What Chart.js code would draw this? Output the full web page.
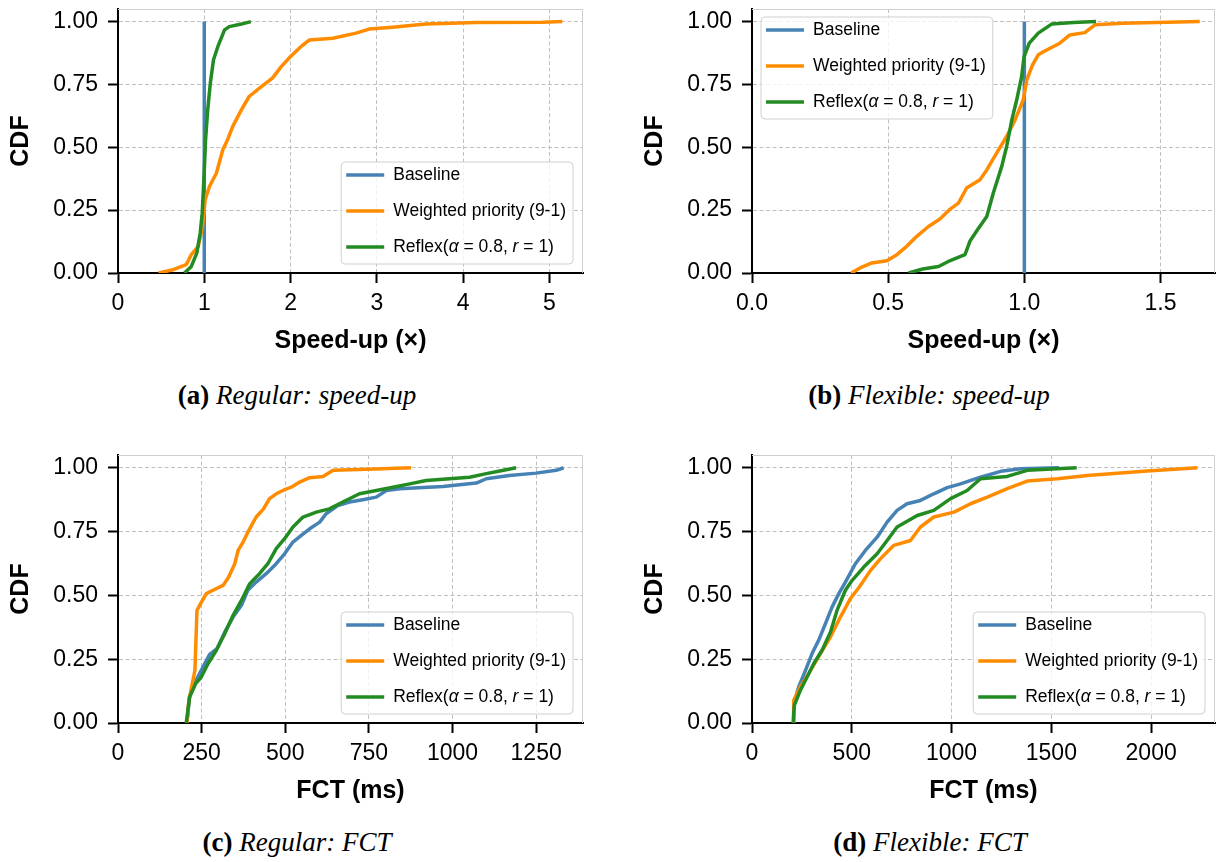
<!DOCTYPE html>
<html>
<head>
<meta charset="utf-8">
<script src="https://cdn.jsdelivr.net/npm/chart.js@4.4.0/dist/chart.umd.min.js"></script>
<style>
  body { margin: 0; background: #fff; }
  #fig { position: relative; width: 1216px; height: 862px; overflow: hidden; background: #fff; }
  #fig canvas { position: absolute; }
  .cap { position: absolute; transform: translate(-50%, -50%); white-space: nowrap;
         font-family: "Liberation Serif", serif; font-size: 27px; color: #000; }
  .cap b { font-style: normal; }
</style>
</head>
<body>
<div id="fig">
  <canvas id="cA" width="600" height="356" style="left:0;top:0"></canvas>
  <canvas id="cB" width="582" height="356" style="left:634px;top:0"></canvas>
  <canvas id="cC" width="600" height="360" style="left:0;top:446px"></canvas>
  <canvas id="cD" width="582" height="360" style="left:634px;top:446px"></canvas>
  <div class="cap" style="left:297px;top:395px"><b>(a)</b> <i>Regular: speed-up</i></div>
  <div class="cap" style="left:929px;top:395px"><b>(b)</b> <i>Flexible: speed-up</i></div>
  <div class="cap" style="left:297px;top:842px"><b>(c)</b> <i>Regular: FCT</i></div>
  <div class="cap" style="left:930px;top:842px"><b>(d)</b> <i>Flexible: FCT</i></div>
</div>
<script>
// series names and tick values
const seriesNames = ['Baseline', 'Weighted priority (9-1)', 'Reflex(α = 0.8, r = 1)'];
const cdfTicks = [0, 0.25, 0.5, 0.75, 1.0];
const speedTicksReg = [0, 1, 2, 3, 4, 5];
const speedTicksFlex = [0, 0.5, 1.0, 1.5];
const fctTicksReg = [0, 250, 500, 750, 1000, 1250];
const fctTicksFlex = [0, 500, 1000, 1500, 2000];

// (a) regular: speed-up
const regSpeedBaseX = [1, 1];
const regSpeedBaseY = [0, 1];
const regSpeedWpX = [0.47, 0.64, 0.79, 0.85, 0.93, 0.98, 1.01, 1.06, 1.14, 1.215, 1.27, 1.33, 1.43, 1.52, 1.64, 1.79, 1.89, 2.0, 2.12, 2.22, 2.49, 2.76, 2.91, 3.18, 3.57, 4.15, 4.92, 5.15];
const regSpeedWpY = [0, 0.013, 0.033, 0.073, 0.106, 0.185, 0.29, 0.344, 0.397, 0.49, 0.53, 0.583, 0.649, 0.702, 0.735, 0.775, 0.82, 0.861, 0.9, 0.927, 0.934, 0.954, 0.97, 0.977, 0.99, 0.996, 0.997, 1.0];
const regSpeedRxX = [0.77, 0.85, 0.914, 0.953, 0.976, 0.999, 1.015, 1.04, 1.07, 1.107, 1.157, 1.235, 1.29, 1.43, 1.54];
const regSpeedRxY = [0, 0.026, 0.08, 0.159, 0.238, 0.397, 0.53, 0.649, 0.755, 0.848, 0.9, 0.967, 0.98, 0.99, 1.0];

// (b) flexible: speed-up
const flexSpeedBaseX = [1, 1];
const flexSpeedBaseY = [0, 1];
const flexSpeedWpX = [0.364, 0.397, 0.44, 0.495, 0.532, 0.568, 0.605, 0.648, 0.69, 0.725, 0.758, 0.788, 0.837, 0.862, 0.898, 0.935, 0.966, 0.996, 1.009, 1.03, 1.051, 1.082, 1.13, 1.167, 1.222, 1.259, 1.363, 1.644];
const flexSpeedWpY = [0, 0.02, 0.04, 0.049, 0.073, 0.106, 0.146, 0.185, 0.215, 0.252, 0.278, 0.338, 0.371, 0.41, 0.477, 0.543, 0.609, 0.689, 0.768, 0.828, 0.868, 0.887, 0.914, 0.947, 0.956, 0.987, 0.993, 1.0];
const flexSpeedRxX = [0.575, 0.627, 0.685, 0.721, 0.782, 0.8, 0.828, 0.862, 0.886, 0.917, 0.935, 0.954, 0.972, 0.99, 0.999, 1.018, 1.051, 1.1, 1.18, 1.263];
const flexSpeedRxY = [0, 0.016, 0.026, 0.046, 0.073, 0.126, 0.172, 0.225, 0.318, 0.424, 0.503, 0.609, 0.689, 0.781, 0.861, 0.914, 0.954, 0.99, 0.996, 1.0];

// (c) regular: FCT (ms)
const regFctBaseX = [206, 214, 236, 254, 274, 296, 319, 344, 369, 388, 413, 443, 473, 498, 523, 548, 573, 603, 622, 657, 692, 732, 772, 802, 842, 971, 1071, 1101, 1170, 1250, 1310, 1332];
const regFctBaseY = [0, 0.102, 0.174, 0.219, 0.269, 0.291, 0.356, 0.415, 0.461, 0.52, 0.552, 0.585, 0.624, 0.663, 0.709, 0.735, 0.761, 0.787, 0.82, 0.852, 0.866, 0.875, 0.885, 0.911, 0.918, 0.927, 0.94, 0.957, 0.97, 0.979, 0.99, 1.0];
const regFctWpX = [206, 212, 222, 230, 236, 244, 264, 284, 314, 331, 349, 359, 374, 391, 413, 435, 453, 473, 493, 518, 543, 573, 613, 643, 722, 876];
const regFctWpY = [0, 0.089, 0.154, 0.206, 0.441, 0.461, 0.507, 0.52, 0.539, 0.572, 0.624, 0.676, 0.709, 0.755, 0.807, 0.839, 0.879, 0.898, 0.911, 0.924, 0.944, 0.961, 0.966, 0.99, 0.993, 1.0];
const regFctRxX = [204, 214, 232, 249, 269, 294, 319, 344, 369, 394, 423, 448, 473, 498, 523, 553, 593, 632, 672, 722, 772, 822, 872, 921, 1051, 1101, 1141, 1190];
const regFctRxY = [0, 0.102, 0.154, 0.18, 0.232, 0.285, 0.35, 0.422, 0.48, 0.546, 0.585, 0.624, 0.683, 0.722, 0.768, 0.807, 0.826, 0.839, 0.866, 0.898, 0.911, 0.924, 0.937, 0.95, 0.963, 0.977, 0.987, 1.0];

// (d) flexible: FCT (ms)
const flexFctBaseX = [206, 209, 234, 268, 301, 334, 368, 401, 435, 468, 518, 568, 627, 677, 727, 777, 844, 911, 978, 1045, 1145, 1246, 1346, 1538];
const flexFctBaseY = [0, 0.076, 0.141, 0.206, 0.272, 0.324, 0.389, 0.454, 0.507, 0.552, 0.624, 0.676, 0.728, 0.787, 0.833, 0.859, 0.872, 0.898, 0.922, 0.937, 0.963, 0.986, 0.996, 1.0];
const flexFctWpX = [206, 209, 242, 284, 343, 393, 443, 493, 543, 594, 644, 711, 794, 844, 911, 1012, 1095, 1179, 1279, 1379, 1530, 1680, 1981, 2232];
const flexFctWpY = [0, 0.089, 0.141, 0.193, 0.272, 0.337, 0.415, 0.487, 0.539, 0.598, 0.644, 0.696, 0.715, 0.768, 0.807, 0.826, 0.859, 0.885, 0.918, 0.948, 0.957, 0.97, 0.987, 1.0];
const flexFctRxX = [206, 212, 242, 276, 309, 351, 393, 426, 468, 502, 560, 627, 677, 727, 828, 911, 995, 1078, 1145, 1279, 1379, 1627];
const flexFctRxY = [0, 0.069, 0.128, 0.18, 0.232, 0.285, 0.356, 0.441, 0.52, 0.559, 0.611, 0.663, 0.715, 0.768, 0.813, 0.833, 0.879, 0.911, 0.957, 0.966, 0.99, 1.0];

const colors = ['#4682b4', '#ff8c00', '#228b22'];
const GRID = 'rgba(176,176,176,0.8)';
const SANS = '"Liberation Sans", Arial, sans-serif';
const LINE_W = 3.5;

Chart.defaults.font.family = SANS;
Chart.defaults.color = '#000';

const zip = (xs, ys) => xs.map((x, i) => ({ x: x, y: ys[i] }));

// matplotlib-like label: α and the standalone r in italics
function labelParts(text) {
  return text.split(/(α|\br(?= =))/).filter(s => s.length).map(s => ({ s: s, it: s === 'α' || s === 'r' }));
}

const frameAndLegend = {
  id: 'frameAndLegend',
  beforeDatasetsDraw(chart) {
    const { ctx, chartArea: a } = chart;
    ctx.save();
    ctx.strokeStyle = '#cfcfcf';
    ctx.lineWidth = 1;
    ctx.beginPath();
    ctx.moveTo(a.left, Math.round(a.top) + 0.5);
    ctx.lineTo(Math.round(a.right) - 0.5, Math.round(a.top) + 0.5);
    ctx.lineTo(Math.round(a.right) - 0.5, a.bottom);
    ctx.stroke();
    ctx.restore();
  },
  afterDatasetsDraw(chart, args, opts) {
    const { ctx, chartArea: a } = chart;
    const size = 17.5;
    const fontN = size + 'px ' + SANS;
    const fontI = 'italic ' + size + 'px ' + SANS;
    const rows = chart.data.datasets.map(ds => {
      const parts = labelParts(ds.label);
      let w = 0;
      parts.forEach(p => { ctx.font = p.it ? fontI : fontN; p.w = ctx.measureText(p.s).width; w += p.w; });
      return { color: ds.borderColor, parts: parts, w: w };
    });
    const textW = Math.max(...rows.map(r => r.w));
    const w = 5 + 38 + 9 + textW + 7;
    const h = 102;
    let x, y;
    if (opts.corner === 'upper left') {
      x = a.left + 9; y = a.top + 8;
    } else {
      x = a.right - 10 - w; y = a.bottom - 9 - h;
    }
    ctx.save();
    const r = 4;
    ctx.beginPath();
    ctx.moveTo(x + r, y);
    ctx.arcTo(x + w, y, x + w, y + h, r);
    ctx.arcTo(x + w, y + h, x, y + h, r);
    ctx.arcTo(x, y + h, x, y, r);
    ctx.arcTo(x, y, x + w, y, r);
    ctx.closePath();
    ctx.fillStyle = 'rgba(255,255,255,0.8)';
    ctx.fill();
    ctx.strokeStyle = '#d0d0d0';
    ctx.lineWidth = 1;
    ctx.stroke();
    rows.forEach((row, i) => {
      const ry = y + 13 + i * 36;
      ctx.strokeStyle = row.color;
      ctx.lineWidth = LINE_W;
      ctx.beginPath();
      ctx.moveTo(x + 5, ry);
      ctx.lineTo(x + 43, ry);
      ctx.stroke();
      ctx.fillStyle = '#000';
      ctx.textBaseline = 'middle';
      ctx.textAlign = 'left';
      let tx = x + 52;
      row.parts.forEach(p => {
        ctx.font = p.it ? fontI : fontN;
        ctx.fillText(p.s, tx, ry);
        tx += p.w;
      });
    });
    ctx.restore();
  }
};

function makeChart(id, opt) {
  const datasets = opt.series.map((s, i) => ({
    label: seriesNames[i],
    data: zip(s[0], s[1]),
    borderColor: colors[i],
    backgroundColor: colors[i],
    borderWidth: LINE_W,
    borderJoinStyle: 'round',
    pointRadius: 0,
    tension: 0,
    fill: false,
    order: 3 - i
  }));
  const fixTicks = vals => scale => { scale.ticks = vals.map(v => ({ value: v })); };
  return new Chart(document.getElementById(id), {
    type: 'line',
    data: { datasets: datasets },
    options: {
      responsive: false,
      animation: false,
      devicePixelRatio: 1,
      layout: { padding: { top: 9, right: opt.padRight, left: 0, bottom: 0 } },
      plugins: {
        legend: { display: false },
        tooltip: { enabled: false },
        frameAndLegend: { corner: opt.corner }
      },
      scales: {
        x: {
          type: 'linear',
          min: 0,
          max: opt.xMax,
          afterBuildTicks: fixTicks(opt.xTicks),
          afterFit: s => { s.height = 83; s.paddingLeft = 0; s.paddingRight = 0; },
          ticks: {
            font: { size: 23 },
            padding: 7,
            maxRotation: 0,
            autoSkip: false,
            callback: v => Number(v).toFixed(opt.dec)
          },
          grid: {
            color: c => (c.tick && c.tick.value === 0) ? 'rgba(0,0,0,0)' : GRID,
            lineWidth: 1,
            tickColor: '#000',
            tickWidth: 2,
            tickLength: 10,
            tickBorderDash: []
          },
          border: { color: '#000', width: 2, dash: [4, 2.5] },
          title: {
            display: true,
            text: opt.xTitle,
            font: { size: 25, weight: 'bold' },
            padding: { top: 0, bottom: 0 }
          }
        },
        y: {
          type: 'linear',
          min: 0,
          max: 1.05,
          afterBuildTicks: fixTicks(cdfTicks),
          afterFit: s => { s.width = 118; s.paddingTop = 0; s.paddingBottom = 0; },
          ticks: {
            font: { size: 23 },
            padding: 10,
            callback: v => Number(v).toFixed(2)
          },
          grid: {
            color: c => (c.tick && c.tick.value === 0) ? 'rgba(0,0,0,0)' : GRID,
            lineWidth: 1,
            tickColor: '#000',
            tickWidth: 2,
            tickLength: 10,
            tickBorderDash: []
          },
          border: { color: '#000', width: 2, dash: [4, 2.5] },
          title: {
            display: true,
            text: 'CDF',
            font: { size: 25, weight: 'bold' },
            padding: { top: 6, bottom: 0 }
          }
        }
      }
    },
    plugins: [frameAndLegend]
  });
}

makeChart('cA', {
  series: [[regSpeedBaseX, regSpeedBaseY], [regSpeedWpX, regSpeedWpY], [regSpeedRxX, regSpeedRxY]],
  xMax: 5.39, xTicks: speedTicksReg, dec: 0, xTitle: 'Speed-up (×)', corner: 'lower right', padRight: 17
});
makeChart('cB', {
  series: [[flexSpeedBaseX, flexSpeedBaseY], [flexSpeedWpX, flexSpeedWpY], [flexSpeedRxX, flexSpeedRxY]],
  xMax: 1.70, xTicks: speedTicksFlex, dec: 1, xTitle: 'Speed-up (×)', corner: 'upper left', padRight: 1
});
makeChart('cC', {
  series: [[regFctBaseX, regFctBaseY], [regFctWpX, regFctWpY], [regFctRxX, regFctRxY]],
  xMax: 1390, xTicks: fctTicksReg, dec: 0, xTitle: 'FCT (ms)', corner: 'lower right', padRight: 17
});
makeChart('cD', {
  series: [[flexFctBaseX, flexFctBaseY], [flexFctWpX, flexFctWpY], [flexFctRxX, flexFctRxY]],
  xMax: 2320, xTicks: fctTicksFlex, dec: 0, xTitle: 'FCT (ms)', corner: 'lower right', padRight: 1
});
</script>
</body>
</html>
